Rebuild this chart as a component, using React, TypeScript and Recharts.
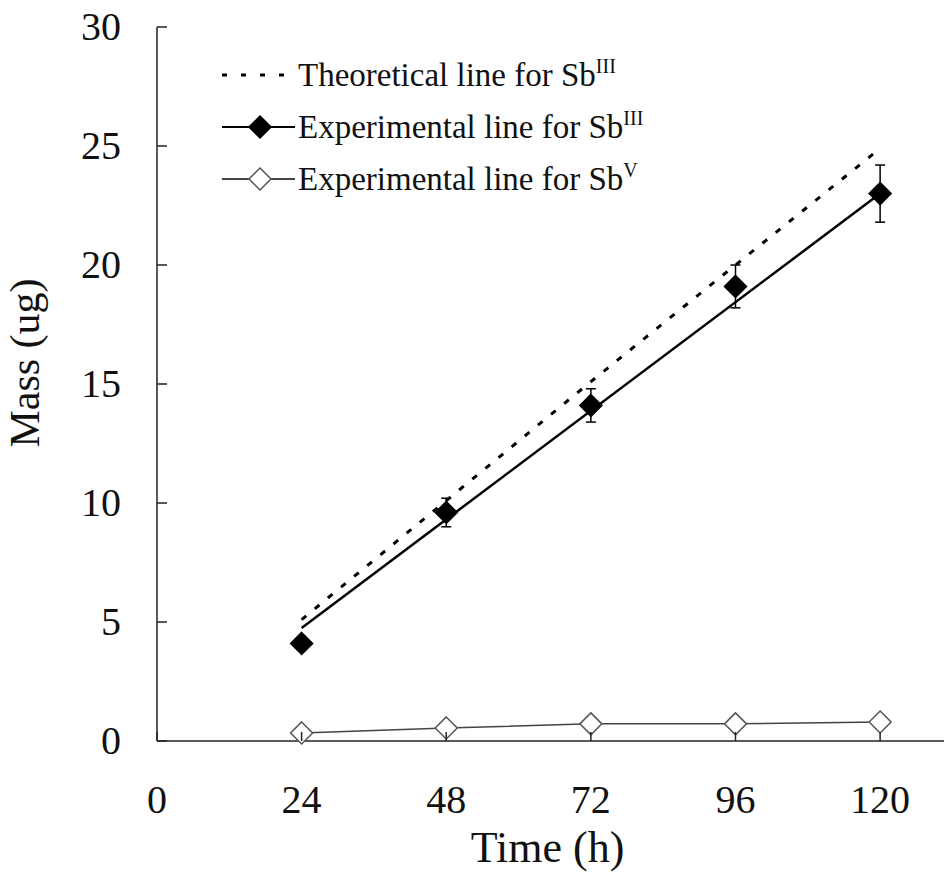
import { LineChart, Line, XAxis, YAxis, ErrorBar, Legend } from 'recharts';

const times = [24, 48, 72, 96, 120];
const theoretical = [5.1, 10.1, 15.1, 20.0, 24.9];
const experimentalIII = [4.1, 9.6, 14.1, 19.1, 23.0];
const experimentalIIIErr = [0.1, 0.6, 0.7, 0.9, 1.2];
// straight trend line drawn through the SbIII points (ends only)
const trendIII = [4.75, null, null, null, 23.0];
const experimentalV = [0.34, 0.55, 0.72, 0.72, 0.8];

const xTicks = [0, 24, 48, 72, 96, 120];
const yTicks = [0, 5, 10, 15, 20, 25, 30];

const legendLabels = ['Theoretical line for Sb', 'Experimental line for Sb', 'Experimental line for Sb'];
const legendSups = ['III', 'III', 'V'];

const data = times.map((t, i) => ({
  time: t,
  theo: theoretical[i],
  exp3: experimentalIII[i],
  exp3Err: experimentalIIIErr[i],
  fit3: trendIII[i],
  exp5: experimentalV[i],
}));

const FONT = '"Liberation Serif", "Times New Roman", serif';
const X_MARGIN = 10;
const Y_MARGIN = 10;

const XTick = (props: any) => {
  const { x, y, payload } = props;
  const axisY = y - X_MARGIN;
  return (
    <g>
      <line x1={x} y1={axisY} x2={x} y2={axisY - 9} stroke="#222" strokeWidth={1.5} />
      <text x={x} y={axisY + 72} textAnchor="middle" fontSize={40} fontFamily={FONT} fill="#111">
        {payload.value}
      </text>
    </g>
  );
};

const YTick = (props: any) => {
  const { x, y, payload } = props;
  const axisX = x + Y_MARGIN;
  return (
    <g>
      <line x1={axisX} y1={y} x2={axisX + 10} y2={y} stroke="#222" strokeWidth={1.5} />
      <text x={axisX - 36} y={y + 13} textAnchor="end" fontSize={40} fontFamily={FONT} fill="#111">
        {payload.value}
      </text>
    </g>
  );
};

const diamond = (fill: string, stroke: string) => (props: any) => {
  const { cx, cy, index } = props;
  if (cx == null || cy == null) return <g key={index} />;
  const r = 11;
  return (
    <polygon
      key={index}
      points={`${cx},${cy - r} ${cx + r},${cy} ${cx},${cy + r} ${cx - r},${cy}`}
      fill={fill}
      stroke={stroke}
      strokeWidth={1.5}
    />
  );
};

const renderLegend = () => (
  <div style={{ fontFamily: FONT, fontSize: 33, color: '#111' }}>
    {legendLabels.map((label, i) => (
      <div key={i} style={{ display: 'flex', alignItems: 'center', height: 52 }}>
        <svg width={76} height={30} style={{ flex: 'none' }}>
          {i === 0 ? (
            <line x1={0} y1={15} x2={72} y2={15} stroke="#000" strokeWidth={3} strokeDasharray="5 14" />
          ) : (
            <g>
              <line x1={0} y1={15} x2={73} y2={15} stroke={i === 1 ? '#000' : '#444'} strokeWidth={2} />
              <polygon
                points="38,4 49,15 38,26 27,15"
                fill={i === 1 ? '#000' : '#fff'}
                stroke={i === 1 ? '#000' : '#555'}
                strokeWidth={1.5}
              />
            </g>
          )}
        </svg>
        <span style={{ whiteSpace: 'nowrap' }}>
          {label}
          <sup style={{ fontSize: 20, verticalAlign: 'top', position: 'relative', top: -2 }}>{legendSups[i]}</sup>
        </span>
      </div>
    ))}
  </div>
);

export default function App() {
  return (
    <div style={{ position: 'absolute', left: 0, top: 0, background: '#fff' }}>
      <LineChart width={948} height={879} data={data} margin={{ top: 27, right: 4, left: 0, bottom: 0 }}>
        <XAxis
          dataKey="time"
          type="number"
          domain={[0, 130.6]}
          ticks={xTicks}
          interval={0}
          tickSize={0}
          tickMargin={X_MARGIN}
          tickLine={false}
          tick={<XTick />}
          axisLine={{ stroke: '#222', strokeWidth: 1.5 }}
          height={138}
          label={{
            content: (p: any) => {
              const vb = p.viewBox;
              return (
                <text x={vb.x + vb.width / 2 - 3} y={vb.y + 121} textAnchor="middle" fontSize={44} fontFamily={FONT} fill="#111">
                  Time (h)
                </text>
              );
            },
          }}
        />
        <XAxis
          xAxisId="top"
          orientation="top"
          dataKey="time"
          type="number"
          domain={[0, 130.6]}
          tick={false}
          tickLine={false}
          height={0}
          axisLine={{ stroke: '#222', strokeWidth: 1.5 }}
        />
        <YAxis
          type="number"
          domain={[0, 30]}
          ticks={yTicks}
          interval={0}
          tickSize={0}
          tickMargin={Y_MARGIN}
          tickLine={false}
          tick={<YTick />}
          axisLine={{ stroke: '#222', strokeWidth: 1.5 }}
          width={157}
          label={{
            content: (p: any) => {
              const vb = p.viewBox;
              const cx = 39;
              const cy = vb.y + vb.height / 2 - 21;
              return (
                <text x={cx} y={cy} transform={`rotate(-90, ${cx}, ${cy})`} textAnchor="middle" fontSize={42} fontFamily={FONT} fill="#111">
                  Mass (ug)
                </text>
              );
            },
          }}
        />
        <YAxis
          yAxisId="right"
          orientation="right"
          type="number"
          domain={[0, 30]}
          tick={false}
          tickLine={false}
          width={0}
          axisLine={{ stroke: '#999', strokeWidth: 1.5 }}
        />
        <Legend
          layout="vertical"
          verticalAlign="middle"
          align="center"
          content={renderLegend}
          wrapperStyle={{ left: 222, top: 49, width: 440 }}
        />
        <Line
          dataKey="theo"
          stroke="#000"
          strokeWidth={3}
          strokeDasharray="6 11"
          dot={false}
          isAnimationActive={false}
        />
        <Line
          dataKey="exp5"
          stroke="#444"
          strokeWidth={1.5}
          dot={diamond('#fff', '#555')}
          isAnimationActive={false}
        />
        <Line
          dataKey="fit3"
          stroke="#000"
          strokeWidth={2.5}
          connectNulls
          dot={false}
          isAnimationActive={false}
        />
        <Line
          dataKey="exp3"
          stroke="none"
          dot={diamond('#000', '#000')}
          isAnimationActive={false}
        >
          <ErrorBar dataKey="exp3Err" width={5} stroke="#000" strokeWidth={1.5} direction="y" />
        </Line>
      </LineChart>
    </div>
  );
}
